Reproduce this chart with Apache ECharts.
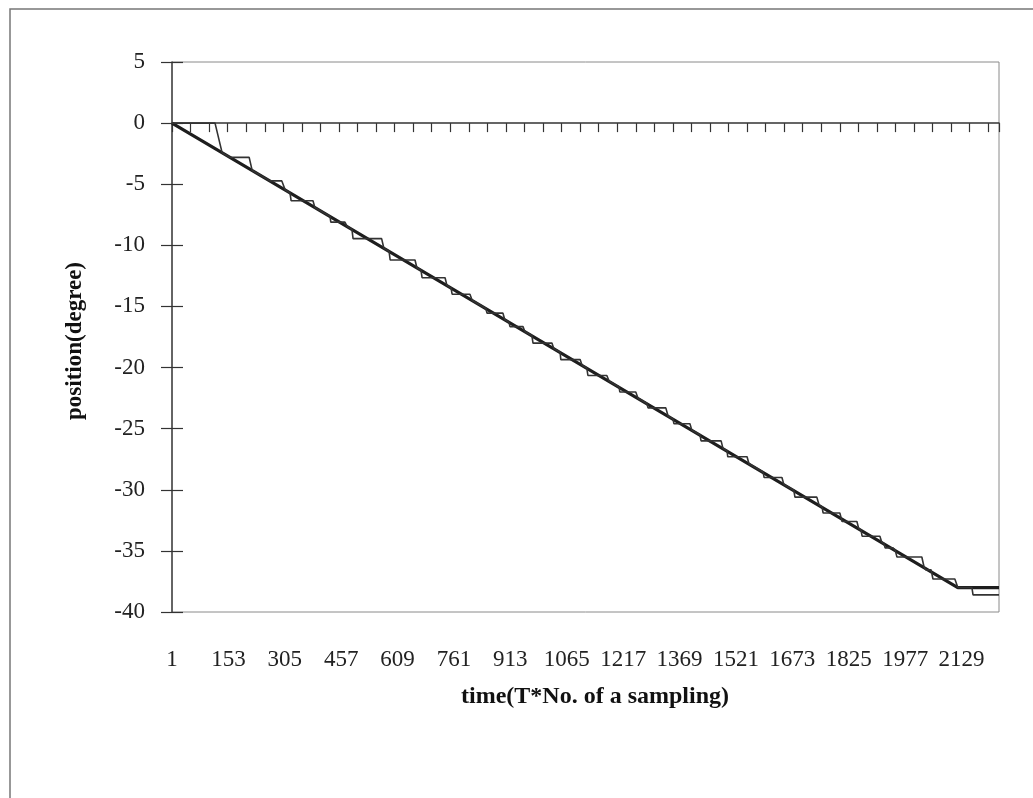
<!DOCTYPE html>
<html><head><meta charset="utf-8">
<script src="https://cdn.jsdelivr.net/npm/echarts@6/dist/echarts.min.js"></script>
<style>html,body{margin:0;padding:0;background:#fff}#c{width:1033px;height:798px}</style>
</head><body><div id="c"></div>
<script>
// x values are sample index - 1 (so label "1" sits at 0)
const xTickLabels = ['1','153','305','457','609','761','913','1065','1217','1369','1521','1673','1825','1977','2129'];
const yTickValues = [5,0,-5,-10,-15,-20,-25,-30,-35,-40];
const xTitle = 'time(T*No. of a sampling)';
const yTitle = 'position(degree)';

// reference (commanded) position, thick line
const referenceLine = [[0,0],[2118,-38.0],[2229,-38.0]];

// measured position, thin stepped line
const measuredLine = [
 [0,0],[116,0],[135,-2.42],[156,-2.8],[208,-2.8],[216,-3.87],[264,-4.73],[296,-4.73],
 [305,-5.46],[318,-5.7],[321,-6.35],[380,-6.35],[385,-6.9],[426,-7.63],[428,-8.1],[466,-8.1],
 [472,-8.45],[485,-8.69],[488,-9.45],[565,-9.45],[571,-10.24],[585,-10.48],[588,-11.2],[655,-11.2],
 [660,-11.83],[671,-12.03],[674,-12.65],[736,-12.65],[741,-13.28],[752,-13.48],[755,-14.0],[803,-14.0],
 [809,-14.49],[846,-15.17],[849,-15.55],[892,-15.55],[897,-16.08],[908,-16.28],[911,-16.65],[946,-16.65],
 [951,-17.05],[970,-17.39],[973,-18.0],[1024,-18.0],[1029,-18.45],[1046,-18.74],[1048,-19.35],[1100,-19.35],
 [1105,-19.8],[1118,-20.04],[1121,-20.65],[1172,-20.65],[1178,-21.11],[1205,-21.59],[1207,-22.0],[1250,-22.0],
 [1256,-22.51],[1280,-22.94],[1283,-23.3],[1331,-23.3],[1337,-23.96],[1350,-24.2],[1353,-24.6],[1396,-24.6],
 [1401,-25.12],[1423,-25.5],[1426,-26.0],[1480,-26.0],[1485,-26.61],[1496,-26.81],[1498,-27.3],[1550,-27.3],
 [1555,-27.87],[1593,-28.54],[1596,-29.0],[1644,-29.0],[1649,-29.56],[1676,-30.04],[1679,-30.6],[1738,-30.6],
 [1744,-31.25],[1752,-31.4],[1755,-31.9],[1800,-31.9],[1806,-32.6],[1846,-32.6],[1851,-33.18],[1857,-33.28],
 [1860,-33.8],[1908,-33.8],[1913,-34.29],[1919,-34.39],[1922,-34.75],[1943,-34.75],[1949,-34.92],[1954,-35.5],
 [2021,-35.5],[2027,-36.32],[2032,-36.55],[2046,-36.55],[2051,-37.3],[2110,-37.3],[2118,-38.0],[2156,-38.0],
 [2159,-38.6],[2229,-38.6]
];

const FONT = 'Liberation Serif';
const xMax = 2229, labelStep = 152, tickStep = 50;
const yMin = yTickValues[yTickValues.length-1], yMax = yTickValues[0];

const chart = echarts.init(document.getElementById('c'), null, {renderer:'canvas'});
chart.setOption({
  animation:false,
  backgroundColor:'#fff',
  grid:{left:172, top:62, right:34, bottom:186, show:true, borderColor:'#8a8a8a', borderWidth:1, backgroundColor:'transparent'},
  xAxis:[
    { // labels at the bottom
      type:'value', min:0, max:xMax, interval:labelStep, position:'bottom',
      axisLine:{show:false, onZero:false}, axisTick:{show:false}, splitLine:{show:false},
      axisLabel:{margin:36, fontFamily:FONT, fontSize:23, color:'#222', showMaxLabel:false,
        formatter:v=>{ if (v % labelStep !== 0) return ''; const i=v/labelStep; return xTickLabels[i] || ''; }}
    },
    { // axis line with ticks on the zero line
      type:'value', min:0, max:xMax, interval:tickStep, position:'bottom',
      axisLine:{show:true, onZero:true, onZeroAxisIndex:0, lineStyle:{color:'#333', width:1.5}},
      axisTick:{show:true, inside:false, length:9, lineStyle:{color:'#333', width:1.2}},
      axisLabel:{show:false}, splitLine:{show:false}
    }
  ],
  yAxis:[
    {
      type:'value', min:yMin, max:yMax, interval:5, position:'left',
      axisLine:{show:true, onZero:false, lineStyle:{color:'#444', width:1.5}},
      axisTick:{show:true, inside:false, length:11, lineStyle:{color:'#333', width:1.2}},
      axisLabel:{margin:27, fontFamily:FONT, fontSize:23, color:'#222'},
      splitLine:{show:false}
    },
    {
      type:'value', min:yMin, max:yMax, interval:5, position:'left',
      axisLine:{show:false, onZero:false},
      axisTick:{show:true, inside:true, length:11, lineStyle:{color:'#333', width:1.2}},
      axisLabel:{show:false}, splitLine:{show:false}
    }
  ],
  graphic:[
    {type:'rect', shape:{x:10, y:9, width:1100, height:900}, style:{fill:'none', stroke:'#777', lineWidth:1.5}, silent:true, z:-1},
    {type:'text', x:595, y:697, style:{text:xTitle, font:'bold 24px "Liberation Serif"', fill:'#111', textAlign:'center', textVerticalAlign:'middle'}},
    {type:'text', x:75, y:341, rotation:Math.PI/2, style:{text:yTitle, font:'bold 23px "Liberation Serif"', fill:'#111', textAlign:'center', textVerticalAlign:'middle'}}
  ],
  series:[
    {type:'line', name:'measured', xAxisIndex:0, yAxisIndex:0, data:measuredLine, showSymbol:false,
     lineStyle:{color:'#333', width:1.6}, z:3},
    {type:'line', name:'reference', xAxisIndex:0, yAxisIndex:0, data:referenceLine, showSymbol:false,
     lineStyle:{color:'#1e1e1e', width:3.2}, z:2}
  ]
});
</script></body></html>
